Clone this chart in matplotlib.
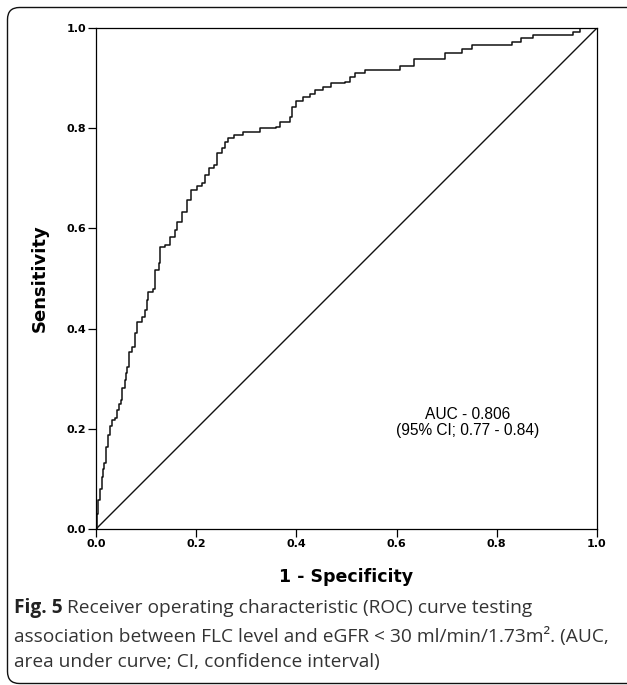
import matplotlib
matplotlib.use('Agg')
from matplotlib import pyplot as plt
from matplotlib.patches import FancyBboxPatch
from matplotlib.transforms import IdentityTransform


# --------------- ROC curve data ---------------

# x = 1 - specificity, y = sensitivity; each point is where the step rises
fpr = [0.000, 0.003, 0.005, 0.008, 0.011, 0.014, 0.016, 0.020, 0.023, 0.027,
       0.031, 0.038, 0.041, 0.046, 0.049, 0.051, 0.058, 0.060, 0.062, 0.065,
       0.071, 0.078, 0.082, 0.091, 0.098, 0.102, 0.104, 0.114, 0.118, 0.126,
       0.128, 0.138, 0.148, 0.158, 0.162, 0.171, 0.181, 0.189, 0.201, 0.211,
       0.218, 0.226, 0.235, 0.241, 0.251, 0.257, 0.264, 0.275, 0.293, 0.327,
       0.359, 0.367, 0.387, 0.391, 0.399, 0.413, 0.428, 0.437, 0.453, 0.470,
       0.497, 0.507, 0.517, 0.537, 0.607, 0.635, 0.697, 0.730, 0.750, 0.830,
       0.848, 0.873, 0.953, 0.966, 1.000]
tpr = [0.000, 0.030, 0.058, 0.080, 0.104, 0.120, 0.132, 0.164, 0.188, 0.205,
       0.218, 0.222, 0.238, 0.250, 0.257, 0.281, 0.297, 0.311, 0.324, 0.354,
       0.364, 0.391, 0.414, 0.423, 0.437, 0.457, 0.474, 0.480, 0.517, 0.530,
       0.563, 0.567, 0.583, 0.597, 0.613, 0.633, 0.657, 0.677, 0.685, 0.690,
       0.707, 0.721, 0.727, 0.750, 0.760, 0.773, 0.781, 0.786, 0.793, 0.801,
       0.802, 0.813, 0.822, 0.843, 0.855, 0.862, 0.868, 0.876, 0.883, 0.891,
       0.893, 0.903, 0.911, 0.916, 0.924, 0.938, 0.951, 0.958, 0.966, 0.973,
       0.980, 0.986, 0.993, 1.000, 1.000]

ref_line = [0.0, 1.0]
ticks = [0.0, 0.2, 0.4, 0.6, 0.8, 1.0]
tick_labels = ['0.0', '0.2', '0.4', '0.6', '0.8', '1.0']

auc_text = 'AUC - 0.806\n(95% CI; 0.77 - 0.84)'
fig_label = 'Fig. 5'
caption_lines = [
    'Receiver operating characteristic (ROC) curve testing',
    'association between FLC level and eGFR < 30 ml/min/1.73m\u00b2. (AUC,',
    'area under curve; CI, confidence interval)',
]


# --------------- figure and axes ---------------

fig = plt.figure(figsize=(6.27, 6.85), dpi=100)
ax = fig.add_axes([0.1531, 0.2277, 0.7990, 0.7314])

ax.plot(fpr, tpr, drawstyle='steps-post', color='#111111', linewidth=1.1)
ax.plot(ref_line, ref_line, color='#111111', linewidth=1.0)

ax.set_xlim(0, 1)
ax.set_ylim(0, 1)
ax.set_xticks(ticks)
ax.set_yticks(ticks)
ax.set_xticklabels(tick_labels, fontsize=8, fontweight='bold')
ax.set_yticklabels(tick_labels, fontsize=8, fontweight='bold')
ax.tick_params(direction='out', length=5.5, width=0.9, pad=1.5)
for spine in ax.spines.values():
    spine.set_linewidth(0.9)

ax.set_xlabel('1 - Specificity', fontsize=12.5, fontweight='bold', labelpad=14)
ax.set_ylabel('Sensitivity', fontsize=13, fontweight='bold', labelpad=13)

ax.text(0.741, 0.212, auc_text, ha='center', va='center', fontsize=11.2,
        family='Liberation Sans', linespacing=1.1)


# --------------- caption and rounded frame ---------------

frame = FancyBboxPatch((7.5, 1.5), 660, 676, boxstyle='round,pad=0,rounding_size=12',
                       transform=IdentityTransform(), facecolor='none',
                       edgecolor='#111111', linewidth=1.0)
fig.patches.append(frame)

cap_size = 13.8
cap_y = [0.1124, 0.0715, 0.0336]
bold = fig.text(0.022, cap_y[0], fig_label, fontsize=cap_size, fontweight='bold',
                family='Open Sans', color='#222222', va='center')
renderer = fig.canvas.get_renderer()
bb = bold.get_window_extent(renderer)
x_after = (bb.x1 + 5) / fig.bbox.width
fig.text(x_after, cap_y[0], caption_lines[0], fontsize=cap_size, family='Open Sans',
         color='#333333', va='center')
fig.text(0.022, cap_y[1], caption_lines[1], fontsize=cap_size, family='Open Sans',
         color='#333333', va='center')
fig.text(0.022, cap_y[2], caption_lines[2], fontsize=cap_size, family='Open Sans',
         color='#333333', va='center')

plt.savefig('out.png', dpi=100)
